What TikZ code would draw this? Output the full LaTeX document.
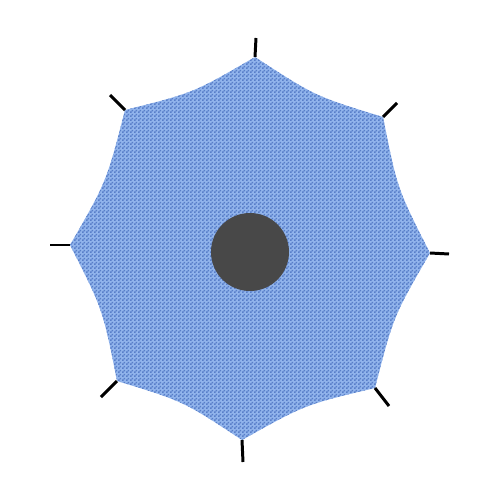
\documentclass[tikz,border=0pt]{standalone}
\usetikzlibrary{patterns}
\pgfdeclarepatternformonly{chk}{\pgfpointorigin}{\pgfqpoint{2pt}{2pt}}{\pgfqpoint{2pt}{2pt}}{%
  \pgfpathrectangle{\pgfpointorigin}{\pgfqpoint{1pt}{1pt}}%
  \pgfpathrectangle{\pgfqpoint{1pt}{1pt}}{\pgfqpoint{1pt}{1pt}}%
  \pgfusepath{fill}}
\definecolor{canopy}{RGB}{145,180,236}
\definecolor{canopydark}{RGB}{88,126,200}
\definecolor{hub}{RGB}{72,72,72}
\tikzset{
  tick/.style={line width=1.7pt, black},
  canopyfill/.style={fill=canopy, postaction={pattern=chk, pattern color=canopydark}},
}
\begin{document}
\begin{tikzpicture}[x=0.02cm,y=-0.02cm]
\useasboundingbox (0,0) rectangle (500,500);
\coordinate (A1) at (255,57);
\coordinate (A2) at (383,117);
\coordinate (A3) at (430,253);
\coordinate (A4) at (375,388);
\coordinate (A5) at (242,440);
\coordinate (A6) at (117,381);
\coordinate (A7) at (70,245);
\coordinate (A8) at (125,110);
\coordinate (T1) at (256,38);
\coordinate (T2) at (397,103);
\coordinate (T3) at (449,254);
\coordinate (T4) at (389,406);
\coordinate (T5) at (243,462);
\coordinate (T6) at (101,397);
\coordinate (T7) at (50,245);
\coordinate (T8) at (110,95);
\path[canopyfill]
  (A1) .. controls (315.1,96.2) .. (A2)
       .. controls (397.3,188.8) .. (A3)
       .. controls (393.4,316.3) .. (A4)
       .. controls (305.1,404.6) .. (A5)
       .. controls (183.5,401.3) .. (A6)
       .. controls (102.8,309.3) .. (A7)
       .. controls (106.5,181.8) .. (A8)
       .. controls (193.4,92.9) .. (A1) -- cycle;
\foreach \i in {1,...,8} { \draw[tick] (A\i) -- (T\i); }
\node[circle, fill=hub, minimum size=78*0.02cm, inner sep=0pt] (hubnode) at (250,252) {};
\end{tikzpicture}
\end{document}
